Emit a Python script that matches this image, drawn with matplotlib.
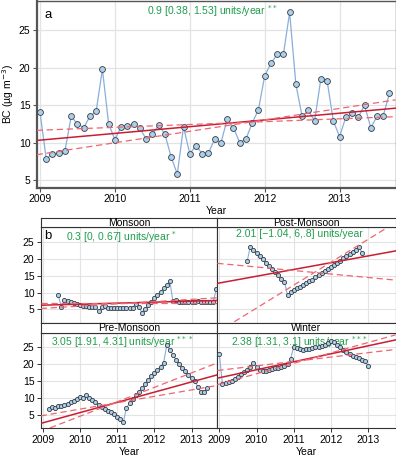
import matplotlib
matplotlib.use("Agg")
import matplotlib.pyplot as plt
import numpy as np

plt.rcParams["font.family"] = ["Liberation Sans", "DejaVu Sans"]
plt.rcParams["font.size"] = 7.5

# ---- panel a: monthly BC from Jan 2009
bc_monthly = [14.1, 7.8, 8.5, 8.6, 8.9, 13.5, 12.5, 12.0, 13.5, 14.2, 19.8, 12.5,
              10.4, 12.1, 12.2, 12.5, 11.9, 10.5, 11.1, 12.3, 11.2, 8.1, 5.8, 12.1,
              8.5, 9.6, 8.5, 8.6, 10.5, 10.0, 13.1, 12.0, 10.0, 10.5, 12.6, 14.4,
              18.9, 20.6, 21.8, 21.8, 27.4, 17.8, 13.5, 14.3, 12.9, 18.5, 18.3, 12.9,
              10.8, 13.4, 13.9, 13.4, 15.0, 12.0, 13.5, 13.6, 16.6]
bc_start = 2009.0
# trend: slope, lower, upper and their values at 2009.0
trend_a_slopes = [0.9, 0.38, 1.53]
trend_a_at2009 = [10.33, 11.66, 8.45]
label_a = "0.9 [0.38, 1.53] units/year $^{**}$"

# ---- panel b: seasonal series
seasons = ["Monsoon", "Post-Monsoon", "Pre-Monsoon", "Winter"]
season_start = {"Monsoon": 2009.417, "Post-Monsoon": 2009.75,
                "Pre-Monsoon": 2009.167, "Winter": 2009.0}
season_vals = {
    "Monsoon": [9.3, 5.7, 7.8, 7.6, 7.3, 7.0, 6.7, 6.3, 6.0, 5.9, 5.8, 5.8, 5.7,
                4.5, 5.7, 5.9, 5.5, 5.5, 5.5, 5.5, 5.5, 5.5, 5.5, 5.5, 5.5, 6.7,
                5.7, 4.1, 5.1, 6.3, 7.3, 8.3, 9.3, 10.3, 11.3, 12.3, 13.4, 7.5,
                7.9, 7.3, 7.2, 7.2, 7.3, 7.3, 7.3, 7.4, 7.3, 7.3, 7.3, 7.3, 7.3, 11.0],
    "Post-Monsoon": [19.4, 23.7, 22.7, 21.8, 20.8, 19.9, 18.9, 17.9, 17.0, 16.0,
                     15.1, 14.2, 13.2, 9.3, 10.3, 10.8, 11.3, 11.8, 12.3, 12.8,
                     13.4, 13.9, 14.5, 15.1, 15.7, 16.3, 16.9, 17.5, 18.2, 18.9,
                     19.5, 20.2, 20.8, 21.5, 22.1, 22.7, 23.7, 21.8],
    "Pre-Monsoon": [6.6, 7.2, 6.9, 7.5, 7.6, 7.9, 8.2, 8.6, 9.1, 9.7, 10.3, 9.9,
                    10.8, 10.0, 9.3, 8.6, 7.9, 7.3, 6.7, 6.2, 5.7, 5.1, 4.4, 3.6,
                    2.7, 7.0, 8.3, 9.6, 10.7, 11.8, 12.9, 14.0, 15.2, 16.4, 17.4,
                    18.3, 19.3, 20.4, 25.7, 24.1, 22.9, 21.3, 20.1, 18.8, 17.9,
                    16.8, 15.9, 15.0, 13.3, 11.6, 11.6, 13.0],
    "Winter": [23.0, 14.2, 14.4, 14.7, 15.1, 15.6, 16.3, 17.0, 17.7, 18.4, 19.3,
               20.4, 19.2, 18.2, 17.9, 18.1, 18.3, 18.5, 18.8, 19.0, 19.3, 19.6,
               20.0, 21.6, 25.2, 24.9, 24.5, 24.3, 24.5, 24.6, 24.8, 25.0, 25.2,
               25.5, 25.8, 26.3, 27.0, 26.5, 25.6, 25.0, 24.3, 23.7, 23.1, 22.6,
               22.2, 21.8, 21.4, 21.0, 19.4],
}
season_slopes = {"Monsoon": [0.3, 0.0, 0.67], "Post-Monsoon": [2.01, -1.04, 6.8],
                 "Pre-Monsoon": [3.05, 1.91, 4.31], "Winter": [2.38, 1.31, 3.1]}
season_at2009 = {"Monsoon": [6.28, 6.95, 5.33], "Post-Monsoon": [12.86, 18.65, -1.38],
                 "Pre-Monsoon": [2.52, 4.7, 0.17], "Winter": [15.97, 18.2, 14.07]}
season_labels = {"Monsoon": "0.3 [0, 0.67] units/year $^{*}$",
                 "Post-Monsoon": "2.01 [\u22121.04, 6,.8] units/year",
                 "Pre-Monsoon": "3.05 [1.91, 4.31] units/year $^{***}$",
                 "Winter": "2.38 [1.31, 3.1] units/year $^{***}$"}

years = [2009, 2010, 2011, 2012, 2013]

W, H = 396, 463
PT_BLUE = "#a9d0ef"
LN_BLUE = "#8aaedb"
RED = "#c81e32"
RED_D = "#f06470"
GREEN = "#1f9d4c"
GRID = "#e3e3e3"


def rect(l, t, r, b):
    return [l / W, 1 - b / H, (r - l) / W, (b - t) / H]


def months(start, n):
    return start + np.arange(n) / 12.0


def draw_series(ax, x, y, ms, lw):
    ax.plot(x, y, color=LN_BLUE, lw=lw, zorder=3)
    ax.plot(x, y, "o", ms=ms, mfc=PT_BLUE, mec="#3a3a3a", mew=0.6, zorder=4)


def draw_trend(ax, slopes, at2009):
    xl = np.array(ax.get_xlim())
    for i, (s, a) in enumerate(zip(slopes, at2009)):
        y = a + s * (xl - 2009.0)
        if i == 0:
            ax.plot(xl, y, color=RED, lw=1.1, zorder=5)
        else:
            ax.plot(xl, y, color=RED_D, lw=0.9, ls=(0, (5, 3)), zorder=5)


fig = plt.figure(figsize=(W / 100, H / 100), dpi=100)

# ---------- panel a
ax = fig.add_axes(rect(36.7, 0.5, 395.5, 188))
ax.set_xlim(2008.956, 2013.747)
ax.set_ylim(3.93, 29.0)
x = months(bc_start, len(bc_monthly))
draw_series(ax, x, bc_monthly, 4.2, 0.9)
draw_trend(ax, trend_a_slopes, trend_a_at2009)
ax.set_xticks(years)
ax.set_yticks([5, 10, 15, 20, 25])
ax.grid(True, color=GRID, lw=0.9)
ax.set_axisbelow(True)
for sp in ax.spines.values():
    sp.set_color("#555555")
    sp.set_linewidth(1.0)
ax.spines["left"].set_linewidth(1.6)
ax.spines["bottom"].set_linewidth(1.6)
ax.tick_params(length=3, width=0.8, color="#555555", labelsize=7.5, pad=1.5)
ax.set_xlabel("Year", fontsize=7.5, labelpad=1)
ax.set_ylabel("BC (\u00b5g m$^{-3}$)", fontsize=7.5, labelpad=2)
ax.text(0.023, 0.955, "a", transform=ax.transAxes, fontsize=9.5, va="top")
ax.text(0.49, 0.985, label_a, transform=ax.transAxes, color=GREEN,
        fontsize=7.5, ha="center", va="top")

# ---------- panel b facets
cells = {
    "Monsoon": (40.7, 227.3, 217.3, 323.3),
    "Post-Monsoon": (217.3, 227.3, 395.5, 323.3),
    "Pre-Monsoon": (40.7, 332.7, 217.3, 428.3),
    "Winter": (217.3, 332.7, 395.5, 428.3),
}
strip_h = 9.4
for k, name in enumerate(seasons):
    l, t, r, b = cells[name]
    ax = fig.add_axes(rect(l, t, r, b))
    ax.set_xlim(2008.946, 2008.946 + (r - l) / 37.2)
    ax.set_ylim(0.9, 29.4)
    xs = months(season_start[name], len(season_vals[name]))
    draw_series(ax, xs, season_vals[name], 3.0, 0.8)
    draw_trend(ax, season_slopes[name], season_at2009[name])
    ax.set_xticks(years)
    ax.set_yticks([5, 10, 15, 20, 25])
    ax.grid(True, color=GRID, lw=0.8)
    ax.set_axisbelow(True)
    for sp in ax.spines.values():
        sp.set_color("#333333")
        sp.set_linewidth(0.8)
    left_col = k % 2 == 0
    bottom_row = k >= 2
    ax.tick_params(length=3, width=0.7, color="#333333", labelsize=7.5, pad=1.5,
                   left=left_col, labelleft=left_col,
                   bottom=bottom_row, labelbottom=bottom_row)
    if bottom_row:
        ax.set_xlabel("Year", fontsize=7.5, labelpad=2)
    ax.text(0.46, 0.985, season_labels[name], transform=ax.transAxes,
            color=GREEN, fontsize=7.5, ha="center", va="top")
    if k == 0:
        ax.text(0.02, 0.97, "b", transform=ax.transAxes, fontsize=9.5, va="top")
    # strip
    sax = fig.add_axes(rect(l, t - strip_h, r, t))
    sax.set_xticks([])
    sax.set_yticks([])
    sax.set_facecolor("white")
    for sp in sax.spines.values():
        sp.set_color("#333333")
        sp.set_linewidth(0.8)
    sax.text(0.5, 0.45, name, transform=sax.transAxes, ha="center",
             va="center", fontsize=7.5)

fig.savefig("out.png", dpi=100)
